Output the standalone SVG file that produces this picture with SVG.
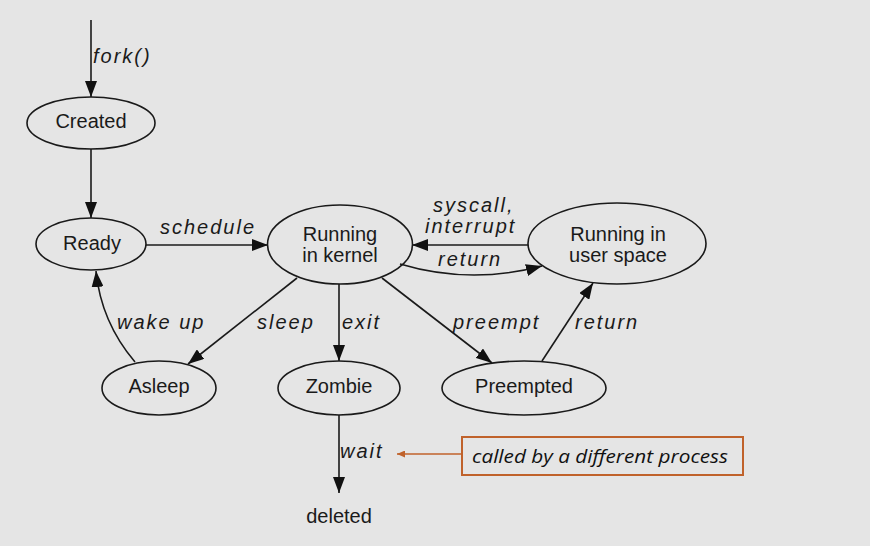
<svg xmlns="http://www.w3.org/2000/svg" width="870" height="546" viewBox="0 0 870 546">
<style>
.node ellipse{fill:none;stroke:#1a1a1a;stroke-width:1.6}
.nt{font-family:"Liberation Sans",Arial,sans-serif;font-size:20px;fill:#1a1a1a;text-anchor:middle}
.lb{font-family:"Liberation Sans",Arial,sans-serif;font-size:20px;font-style:italic;fill:#1a1a1a;letter-spacing:2px}
.edge{fill:none;stroke:#1a1a1a;stroke-width:1.6}
.note{font-family:"Open Sans","Liberation Sans",sans-serif;font-size:18px;font-style:italic;fill:#111}
</style>
<defs>
<marker id="ah" markerUnits="userSpaceOnUse" markerWidth="16" markerHeight="12" refX="16" refY="6" orient="auto" viewBox="0 0 16 12">
<path d="M0,0 L16,6 L0,12 z" fill="#111"/>
</marker>
<marker id="ao" markerUnits="userSpaceOnUse" markerWidth="8" markerHeight="7" refX="8" refY="3.5" orient="auto" viewBox="0 0 8 7">
<path d="M0,0 L8,3.5 L0,7 z" fill="#c0622b"/>
</marker>
</defs>
<rect width="870" height="546" fill="#e5e5e5"/>
<g id="connectors">
<line class="edge" x1="91" y1="20" x2="91" y2="97" marker-end="url(#ah)"/>
<line class="edge" x1="91" y1="149" x2="91" y2="218" marker-end="url(#ah)"/>
<line class="edge" x1="146" y1="245" x2="268" y2="245" marker-end="url(#ah)"/>
<line class="edge" x1="528" y1="245" x2="412" y2="245" marker-end="url(#ah)"/>
<path class="edge" d="M400 264 Q470 285 542 266" marker-end="url(#ah)"/>
<line class="edge" x1="297" y1="278" x2="188" y2="364" marker-end="url(#ah)"/>
<path class="edge" d="M135 362 Q101 322 96 271" marker-end="url(#ah)"/>
<line class="edge" x1="339" y1="284" x2="339" y2="361" marker-end="url(#ah)"/>
<line class="edge" x1="382" y1="278" x2="492" y2="363" marker-end="url(#ah)"/>
<line class="edge" x1="542" y1="361" x2="593" y2="283" marker-end="url(#ah)"/>
<line class="edge" x1="339" y1="415" x2="339" y2="493" marker-end="url(#ah)"/>
<text class="lb" x="93" y="63">fork()</text>
<text class="lb" x="160" y="234">schedule</text>
<text class="lb" x="433" y="212">syscall,</text>
<text class="lb" x="425" y="233">interrupt</text>
<text class="lb" x="438" y="266">return</text>
<text class="lb" x="117" y="329">wake up</text>
<text class="lb" x="257" y="329">sleep</text>
<text class="lb" x="342" y="329">exit</text>
<text class="lb" x="453" y="329">preempt</text>
<text class="lb" x="575" y="329">return</text>
<text class="lb" x="340" y="458">wait</text>
</g>
<g id="created" class="node"><ellipse cx="91" cy="123" rx="64" ry="26"/><text class="nt" x="91" y="128">Created</text></g>
<g id="ready" class="node"><ellipse cx="91" cy="244" rx="55" ry="26"/><text class="nt" x="92" y="250">Ready</text></g>
<g id="kernel" class="node"><ellipse cx="340" cy="244.5" rx="72.5" ry="39.5"/><text class="nt" x="340" y="241">Running</text><text class="nt" x="340" y="262">in kernel</text></g>
<g id="user" class="node"><ellipse cx="617" cy="243.5" rx="89" ry="40.5"/><text class="nt" x="618" y="241">Running in</text><text class="nt" x="618" y="262">user space</text></g>
<g id="asleep" class="node"><ellipse cx="159" cy="388" rx="57" ry="27"/><text class="nt" x="159" y="393">Asleep</text></g>
<g id="zombie" class="node"><ellipse cx="339" cy="388" rx="61" ry="27"/><text class="nt" x="339" y="393">Zombie</text></g>
<g id="preempted" class="node"><ellipse cx="524" cy="388" rx="82" ry="27"/><text class="nt" x="524" y="393">Preempted</text></g>
<g id="deleted"><text class="nt" x="339" y="523">deleted</text></g>
<g id="note">
<rect x="462" y="437" width="281" height="38" fill="none" stroke="#c0622b" stroke-width="2"/>
<line x1="462" y1="454" x2="397" y2="454" stroke="#c0622b" stroke-width="1.6" marker-end="url(#ao)"/>
<text class="note" x="472" y="463" textLength="256" lengthAdjust="spacingAndGlyphs">called by a different process</text>
</g>
</svg>
